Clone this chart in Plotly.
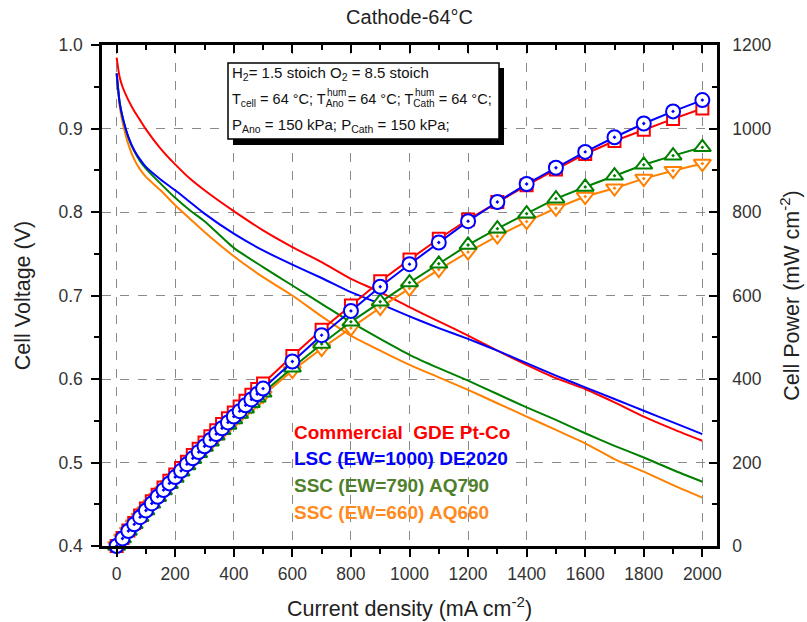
import plotly.graph_objects as go

# ---------------- data ----------------
I_v = [0, 10, 20, 40, 60, 80, 100, 150, 200, 250, 300, 400, 500, 600, 700, 800,
       900, 1000, 1100, 1200, 1300, 1400, 1500, 1600, 1700, 1800, 1900, 2000]

V_red = [0.985, 0.962, 0.950, 0.934, 0.921, 0.910, 0.899, 0.876, 0.857, 0.840, 0.826,
         0.801, 0.778, 0.758, 0.740, 0.720, 0.704, 0.686, 0.669, 0.652, 0.634, 0.617,
         0.601, 0.588, 0.572, 0.555, 0.540, 0.526]
V_blue = [0.966, 0.932, 0.914, 0.890, 0.874, 0.863, 0.854, 0.839, 0.826, 0.812, 0.798,
          0.774, 0.754, 0.737, 0.721, 0.704, 0.690, 0.675, 0.661, 0.648, 0.634, 0.619,
          0.604, 0.590, 0.576, 0.562, 0.548, 0.534]
V_green = [0.966, 0.932, 0.914, 0.889, 0.873, 0.861, 0.852, 0.834, 0.817, 0.802, 0.789,
           0.757, 0.734, 0.712, 0.690, 0.668, 0.648, 0.629, 0.613, 0.598, 0.582, 0.566,
           0.551, 0.535, 0.520, 0.506, 0.491, 0.477]
V_orange = [0.966, 0.928, 0.908, 0.881, 0.863, 0.851, 0.842, 0.826, 0.808, 0.792, 0.776,
            0.747, 0.722, 0.700, 0.675, 0.652, 0.634, 0.617, 0.602, 0.587, 0.571, 0.555,
            0.539, 0.523, 0.504, 0.489, 0.473, 0.458]

I_p = [0, 20, 40, 60, 80, 100, 120, 140, 160, 180, 200, 220, 240, 260, 280, 300, 320,
       340, 360, 380, 400, 420, 440, 460, 480, 500, 600, 700, 800, 900, 1000, 1100,
       1200, 1300, 1400, 1500, 1600, 1700, 1800, 1900, 2000]

P_red = [0, 19, 37, 55, 73, 90, 107, 123, 140, 156, 171, 187, 202, 218, 233, 248, 263,
         277, 292, 306, 320, 334, 348, 362, 376, 389, 455, 518, 576, 634, 686, 736,
         782, 824, 864, 902, 939, 970, 997, 1023, 1048]
P_blue = [0, 18, 36, 52, 69, 85, 102, 118, 134, 150, 165, 180, 196, 210, 225, 239, 254,
          268, 282, 296, 310, 323, 337, 351, 364, 377, 442, 505, 563, 621, 675, 727,
          778, 824, 867, 906, 944, 979, 1012, 1041, 1068]
P_green = [0, 18, 36, 52, 69, 85, 101, 117, 133, 148, 163, 178, 193, 208, 222, 237, 250,
           264, 277, 290, 303, 316, 329, 342, 355, 367, 427, 484, 537, 585, 631, 676,
           721, 760, 796, 832, 860, 887, 913, 935, 955]
P_orange = [0, 18, 35, 52, 68, 84, 100, 116, 132, 147, 162, 176, 191, 205, 219, 233, 246,
            260, 273, 286, 299, 312, 324, 337, 349, 361, 420, 473, 522, 571, 617, 662,
            704, 742, 777, 809, 837, 857, 880, 899, 916]

labels = ["Commercial  GDE Pt-Co", "LSC (EW=1000) DE2020",
          "SSC (EW=790) AQ790", "SSC (EW=660) AQ660"]
line_colors = ["#FF0000", "#0000FF", "#008000", "#FF8000"]
text_colors = ["#FF0000", "#0000FF", "#4F7F2A", "#FF8A1E"]
symbols = ["square", "circle-dot", "triangle-up-dot", "triangle-down-dot"]
msizes = [12, 14, 15, 15]

x_ticks = [0, 200, 400, 600, 800, 1000, 1200, 1400, 1600, 1800, 2000]
yl_ticks = [0.4, 0.5, 0.6, 0.7, 0.8, 0.9, 1.0]
yr_ticks = [0, 200, 400, 600, 800, 1000, 1200]

# ---------------- figure ----------------
fig = go.Figure()
V_all = [V_red, V_blue, V_green, V_orange]
P_all = [P_red, P_blue, P_green, P_orange]

for k in [3, 2, 0, 1]:
    fig.add_trace(go.Scatter(x=I_v, y=V_all[k], mode="lines",
                             line=dict(color=line_colors[k], width=2, shape="spline",
                                       smoothing=0.6),
                             xaxis="x", yaxis="y", showlegend=False))
for k in [3, 2, 0, 1]:
    fig.add_trace(go.Scatter(x=I_p, y=P_all[k], mode="lines+markers",
                             line=dict(color=line_colors[k], width=2),
                             marker=dict(symbol=symbols[k], size=msizes[k], color="white",
                                         line=dict(color=line_colors[k], width=2)),
                             cliponaxis=False,
                             xaxis="x", yaxis="y2", showlegend=False))

FONT = "Liberation Sans, Arial, sans-serif"
TXT = "#222222"
axis_common = dict(showline=True, linecolor="black", linewidth=2.5,
                   tickcolor="black", tickwidth=2, automargin=False,
                   tickfont=dict(family=FONT, size=17.5, color="#333333"))

fig.update_layout(
    width=807, height=622,
    margin=dict(l=102, r=90, t=45, b=76),
    paper_bgcolor="white", plot_bgcolor="white",
    font=dict(family=FONT, color=TXT),
    title=dict(text="Cathode-64°C", x=0.5075, xanchor="center", y=0.972, yanchor="middle",
               font=dict(family=FONT, size=20, color=TXT)),
    xaxis=dict(range=[-50, 2050], tickvals=x_ticks, ticks="outside", ticklen=8,
               minor=dict(dtick=100, ticks="outside", ticklen=5, tickcolor="black", tickwidth=2),
               showgrid=True, gridcolor="#8a8a8a", griddash="dash", gridwidth=1,
               zeroline=False, ticklabelstandoff=2,
               title=dict(text="Current density (mA cm<sup>-2</sup>)",
                          font=dict(family=FONT, size=21.5, color=TXT), standoff=19),
               **axis_common),
    xaxis2=dict(range=[-50, 2050], overlaying="x", side="top", tickvals=x_ticks,
                ticks="inside", ticklen=8, showticklabels=False,
                minor=dict(dtick=100, ticks="inside", ticklen=5, tickcolor="black", tickwidth=2),
                showgrid=False, zeroline=False, **axis_common),
    yaxis=dict(range=[0.4, 1.0], tickvals=yl_ticks, ticktext=[f"{v:.1f}" for v in yl_ticks],
               ticks="outside", ticklen=8, ticklabelstandoff=5,
               minor=dict(dtick=0.05, ticks="outside", ticklen=5, tickcolor="black", tickwidth=2),
               showgrid=True, gridcolor="#8a8a8a", griddash="dash", gridwidth=1,
               zeroline=False,
               title=dict(text="Cell Voltage (V)",
                          font=dict(family=FONT, size=21.5, color=TXT), standoff=22),
               **axis_common),
    yaxis2=dict(range=[0, 1200], overlaying="y", side="right", tickvals=yr_ticks,
                ticks="inside", ticklen=8, ticklabelstandoff=9,
                minor=dict(dtick=100, ticks="inside", ticklen=5, tickcolor="black", tickwidth=2),
                showgrid=False, zeroline=False,
                title=dict(text="Cell Power (mW cm<sup>-2</sup>)",
                           font=dict(family=FONT, size=21.5, color=TXT), standoff=14),
                **axis_common),
)

# dummy trace to make xaxis2 visible
fig.add_trace(go.Scatter(x=[None], y=[None], xaxis="x2", yaxis="y", showlegend=False,
                         hoverinfo="skip"))

# info box with shadow (paper coords)
def px2paper(px, py):
    return (px - 102) / 615.0, (546 - py) / 501.0

sx0, sy0 = px2paper(233, 68)
sx1, sy1 = px2paper(504, 145)
bx0, by0 = px2paper(228, 63)
bx1, by1 = px2paper(499, 139)
fig.add_shape(type="rect", xref="paper", yref="paper", x0=sx0, x1=sx1, y0=sy0, y1=sy1,
              fillcolor="black", line=dict(width=0), layer="above")
fig.add_shape(type="rect", xref="paper", yref="paper", x0=bx0, x1=bx1, y0=by0, y1=by1,
              fillcolor="white", line=dict(color="black", width=1.5), layer="above")

info_lines = [
    "H<sub>2</sub>= 1.5 stoich O<sub>2</sub> = 8.5 stoich",
    "T<sub>cell</sub> = 64 °C; T<sub>Ano</sub> = 64 °C; T<sub>Cath</sub> = 64 °C;",
    "P<sub>Ano</sub> = 150 kPa; P<sub>Cath</sub> = 150 kPa;",
]
info_y = [73, 100, 125]
info_size = [15, 14.5, 15]
for txt, py, fs in zip(info_lines, info_y, info_size):
    xp, yp = px2paper(230, py)
    fig.add_annotation(text=txt, xref="paper", yref="paper", x=xp, y=yp,
                       xanchor="left", yanchor="middle", showarrow=False,
                       font=dict(family=FONT, size=fs, color="#111111"))
# stacked "hum" superscripts above the Ano / Cath subscripts
for hx in [325, 413]:
    xp, yp = px2paper(hx, 93)
    fig.add_annotation(text="hum", xref="paper", yref="paper", x=xp, y=yp,
                       xanchor="left", yanchor="middle", showarrow=False,
                       font=dict(family=FONT, size=10, color="#111111"))

leg_y = [432, 458, 485, 512]
for lab, col, py in zip(labels, text_colors, leg_y):
    xp, yp = px2paper(292, py)
    fig.add_annotation(text=f"<b>{lab}</b>", xref="paper", yref="paper", x=xp, y=yp,
                       xanchor="left", yanchor="middle", showarrow=False,
                       font=dict(family=FONT, size=19, color=col))

fig.write_html("out.html")
